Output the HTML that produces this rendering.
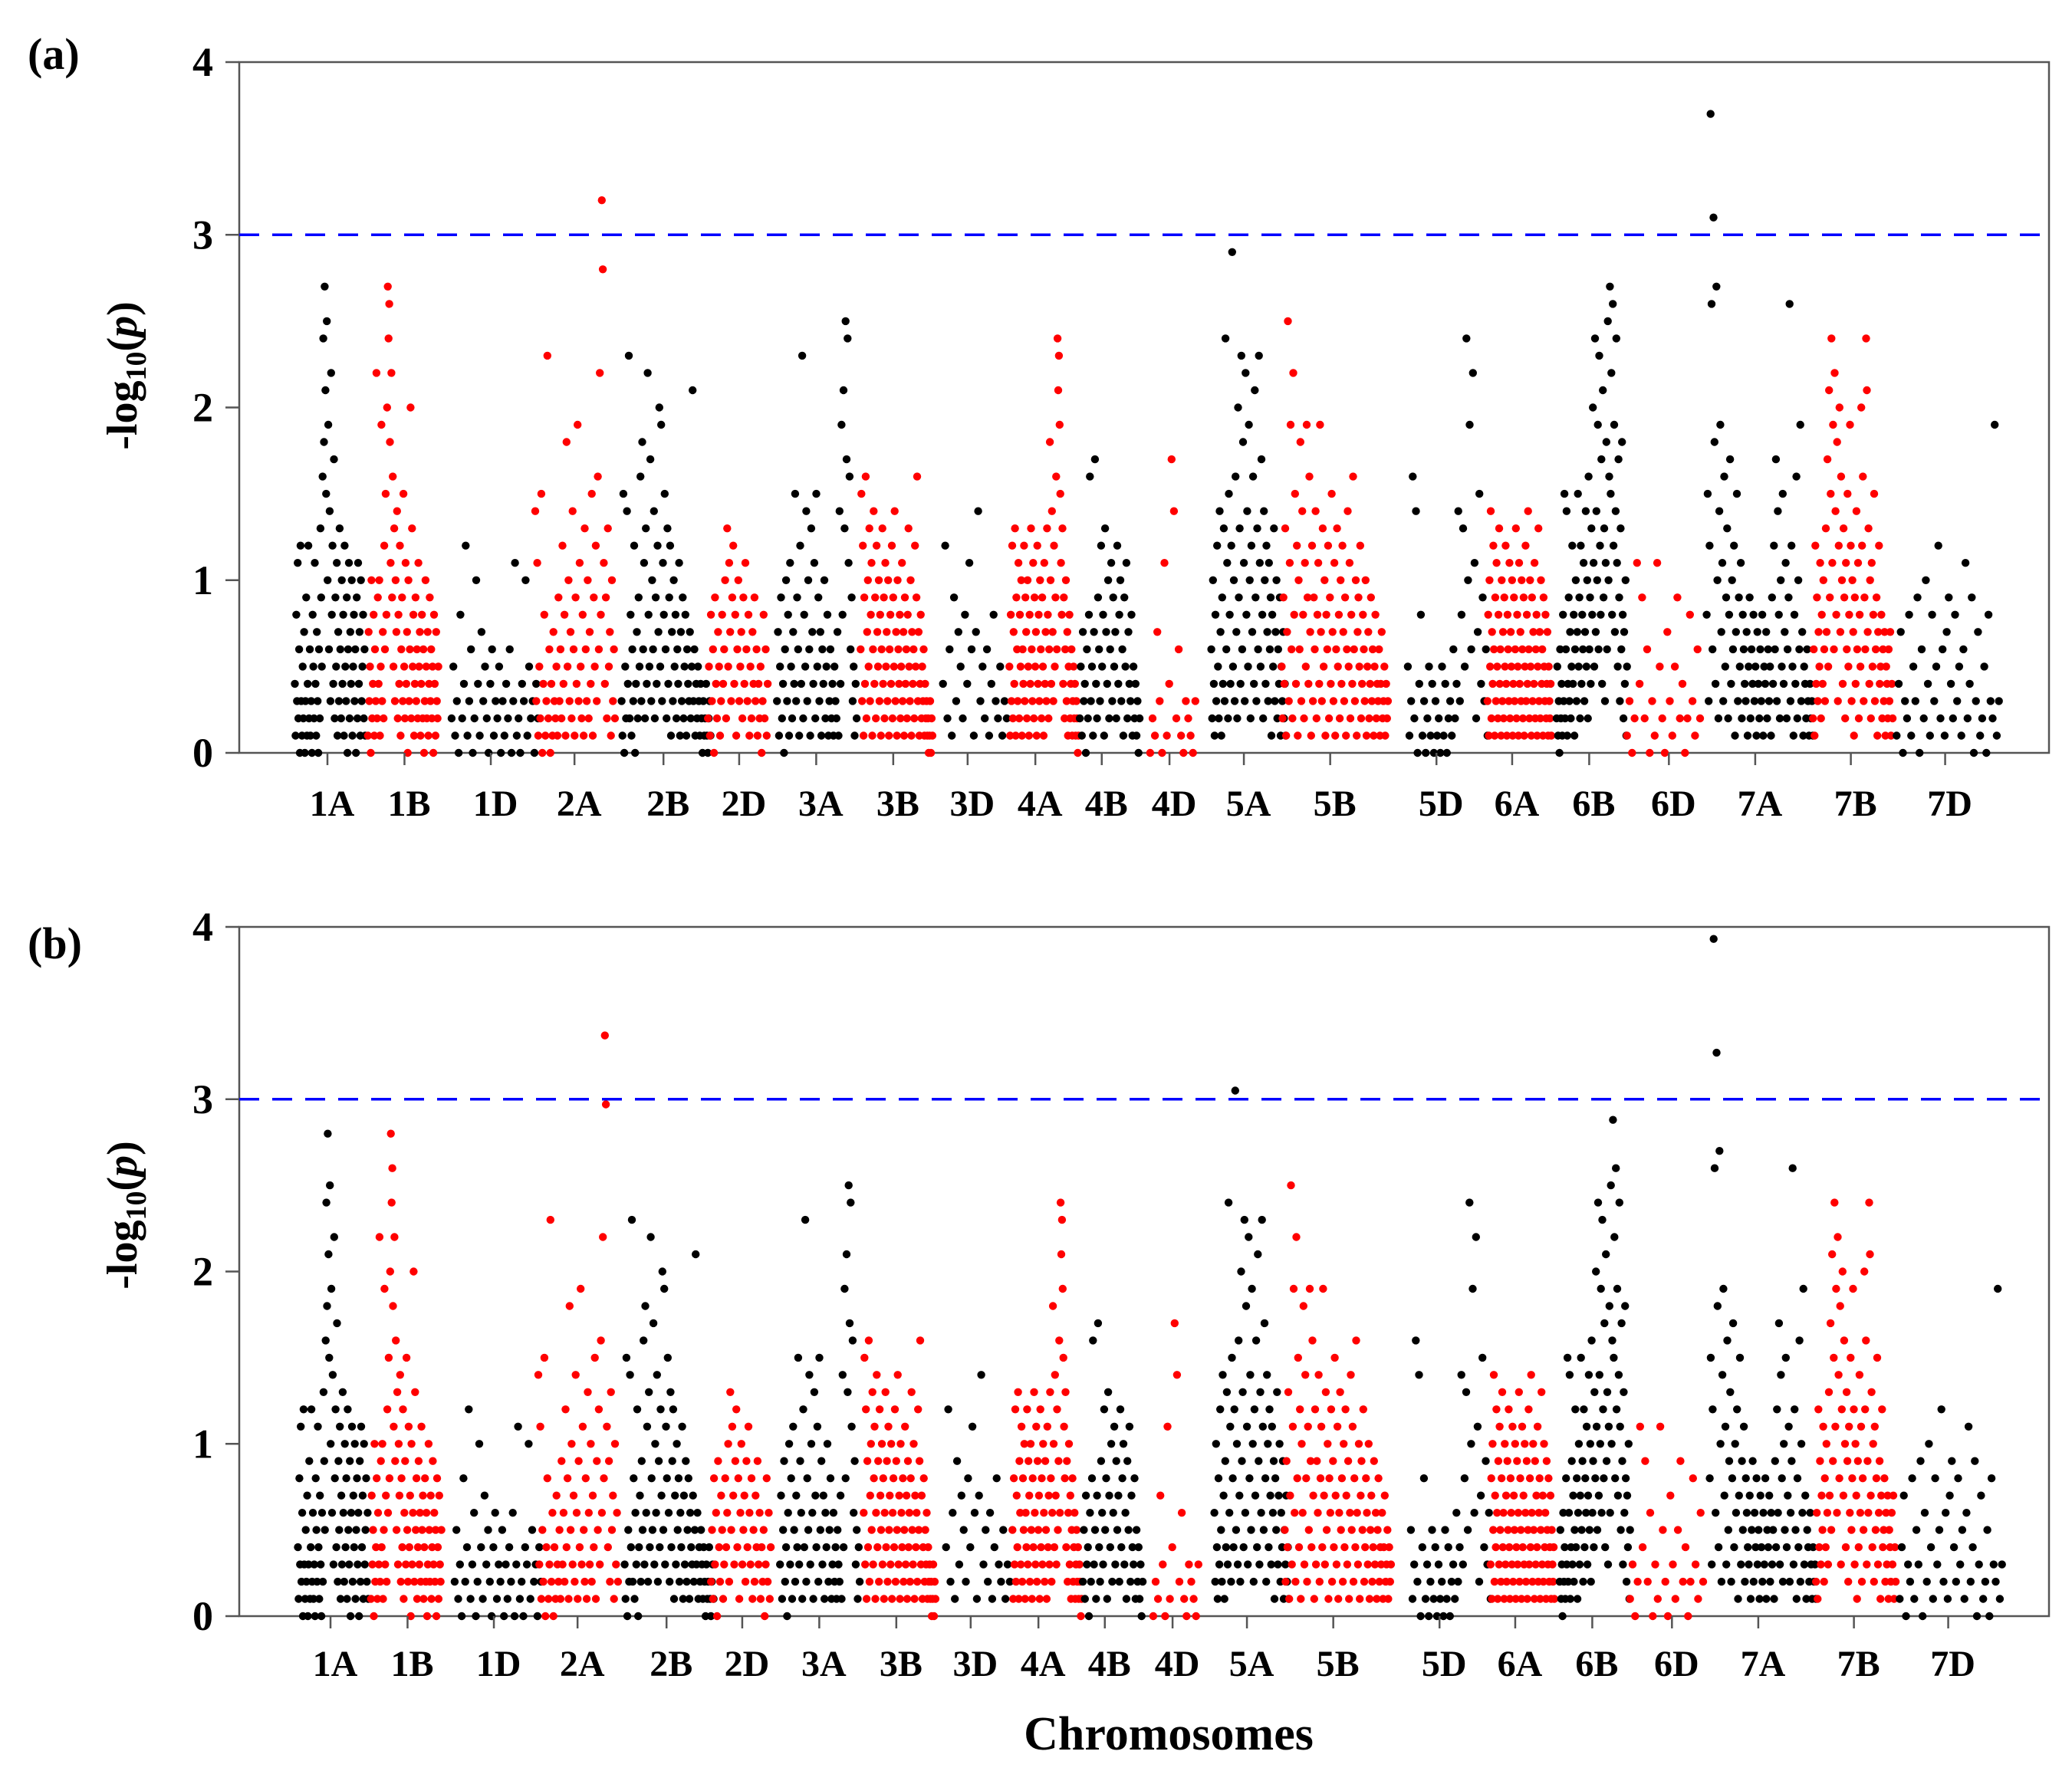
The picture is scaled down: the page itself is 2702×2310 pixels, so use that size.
<!DOCTYPE html>
<html><head><meta charset="utf-8"><style>
html,body{margin:0;padding:0;background:#fff}
svg{display:block}
text{font-family:"Liberation Serif",serif;font-weight:bold;fill:#000}
</style></head><body>
<svg id="chart" width="2702" height="2310" viewBox="0 0 2702 2310" xmlns="http://www.w3.org/2000/svg"></svg>
<script>
// chromosome names
const chromosomes=["1A","1B","1D","2A","2B","2D","3A","3B","3D","4A","4B","4D","5A","5B","5D","6A","6B","6D","7A","7B","7D"];
// -log10(p) values x10, ordered along each chromosome
const v1A=[4,1,8,3,11,2,6,0,12,3,1,5,2,7,0,3,9,1,4,12,2,6,1,3,0,8,5,2,11,4,1,7,3,0,6,2,13,9,5,16,24,18,27,21,15,25,10,19,6,14,3,22,8,12,4,17,2,9,5,11,1,7,3,13,6,2,10,4,8,1,12,5,3,9,0,6,11,2,7,4,10,1,5,8,3,6,0,9,2,11,4,7,1,10,3,5,8,2,6,1];
const v1B=[1,7,3,5,0,10,2,4,8,1,6,3,22,2,9,4,10,1,5,19,3,7,2,12,6,15,8,20,27,24,26,18,11,22,9,16,5,13,3,10,7,14,2,8,4,12,1,6,9,3,15,5,2,11,4,7,0,10,3,6,20,2,13,5,8,1,4,9,3,6,2,11,5,7,1,4,8,2,6,0,3,10,5,2,7,1,4,9,3,6,2,5,0,8,4,1,7,3,2,5];
const v1D=[2,5,1,3,0,8,2,4,12,1,3,6,0,2,10,4,1,7,3,5,2,0,4,6,1,3,2,5,0,3,1,4,2,6,0,3,11,1,2,0,4,3,10,1,5,2,3,0,4,2];
const v2A=[14,3,11,1,5,2,15,0,4,8,1,3,23,2,6,0,4,1,7,3,2,5,1,9,3,6,2,12,4,8,1,18,5,10,3,7,2,14,6,1,9,4,19,3,11,5,2,8,1,13,6,3,10,2,7,4,15,1,9,5,12,3,16,6,22,8,32,28,11,4,9,2,13,5,7,1,10,3,6,2];
const v2B=[3,1,15,0,5,2,14,4,23,2,8,1,6,3,12,0,4,7,2,9,5,16,3,18,6,11,2,13,4,22,8,5,17,3,10,6,14,2,9,4,12,7,20,5,19,3,11,8,15,6,2,13,4,9,12,1,7,3,10,5,8,2,6,4,11,1,7,3,9,2,5,8,1,6,4,3,7,2,5,21,3,6,1,4,2,5,3,1,4,2,0,3,1,2,4,1,0,2,3,1];
const v2D=[2,5,1,8,3,6,0,9,4,2,7,5,1,3,8,4,6,10,2,13,5,11,7,3,9,12,4,8,1,6,10,3,5,7,2,9,4,11,6,3,8,1,5,2,7,4,9,3,6,1,4,2,5,0,3,8,2,6,1,4];
const v3A=[3,7,1,5,9,2,4,0,6,10,3,8,1,11,5,2,7,4,15,3,9,6,1,12,4,23,2,8,5,14,3,10,6,1,13,7,4,11,2,15,5,9,3,7,1,6,4,10,2,5,8,1,3,6,2,4,1,5,3,2,7,1,14,4,19,8,21,13,25,17,24,11,16,6,9,3,5,1,4,2];
const v3B=[6,15,3,12,1,9,4,16,2,7,10,5,13,3,8,11,1,6,14,4,9,2,12,7,5,10,3,8,1,6,13,4,9,2,11,5,7,3,10,1,6,8,4,12,2,9,5,14,3,7,1,10,6,4,8,2,5,11,3,7,1,9,4,6,2,8,13,5,3,10,1,7,4,6,2,12,5,9,16,3,7,1,4,8,2,5,3,6,1,4,2,3,1,2,0,1,3,0,2,1];
const v3D=[4,12,2,6,1,9,3,7,5,2,8,4,11,6,1,7,14,3,5,2,6,1,4,8,3,2,5,1,3,2];
const v4A=[5,1,8,3,12,2,7,4,13,1,9,6,3,11,2,8,5,10,1,6,4,12,3,9,7,2,10,5,1,8,4,13,6,3,11,2,9,5,7,1,12,4,8,3,10,6,2,9,5,1,11,4,7,3,13,8,2,6,18,10,4,14,7,3,12,5,9,16,6,24,21,23,19,15,11,8,13,4,9,2,6,10,3,7,1,5,8,2,4,6,1,3,5,2,4,1,3,2,0,1];
const v4B=[2,5,1,7,3,4,0,6,2,8,16,3,5,1,7,17,4,2,9,6,3,12,5,8,1,13,7,4,10,2,6,11,3,9,5,7,2,12,4,8,10,3,6,1,9,5,11,2,7,4,3,8,1,5,2,4,1,3,0,2];
const v4D=[0,2,1,7,3,0,11,1,4,17,14,2,6,1,0,3,2,1,0,3];
const v5A=[6,2,10,4,1,8,3,12,5,2,14,7,1,9,4,13,3,24,6,11,2,15,8,4,12,29,5,10,3,16,7,2,20,9,13,4,23,6,18,11,3,22,8,14,5,19,10,2,12,7,16,4,21,9,3,13,6,23,11,5,17,8,2,14,10,4,12,7,3,11,6,9,1,8,5,13,3,7,10,2,6,4,9,1,5,3,7,2,4,1];
const v5B=[5,2,9,4,13,1,7,25,3,11,19,6,2,22,8,15,4,12,1,10,6,18,3,14,8,2,11,5,19,9,4,16,7,1,12,3,9,6,14,2,8,11,4,19,7,3,13,5,10,1,8,6,12,2,9,4,15,7,3,11,1,6,13,5,8,2,10,4,12,7,3,9,1,6,14,5,11,2,8,4,16,6,3,10,1,7,9,5,12,2,4,8,6,3,10,1,5,7,2,4,9,3,6,1,5,8,2,4,3,6,1,4,7,2,3,5,1,4,2,3];
const v5D=[5,1,3,16,2,14,0,4,8,1,3,0,2,5,1,4,0,3,1,2,0,5,1,4,0,2,3,1,6,2,4,14,3,8,13,5,24,10,19,6,22,11,2,7,15,4,9,3,6,1];
const v6A=[3,8,1,10,5,14,2,7,4,12,6,1,9,3,11,5,2,8,13,4,6,1,10,3,7,2,9,5,12,4,1,8,6,3,11,2,7,5,10,1,4,9,3,6,13,2,8,5,1,11,4,7,3,10,6,2,9,1,5,12,3,8,4,14,6,2,10,5,1,9,3,7,4,11,2,6,8,1,5,13,3,7,2,10,4,6,1,9,5,3,8,2,4,7,1,5,3,2,4,1];
const v6B=[2,5,1,3,0,6,2,4,1,8,3,15,2,6,14,1,4,9,3,7,2,5,12,4,8,1,6,10,3,7,15,5,9,2,12,4,8,6,11,3,7,14,5,10,2,16,6,9,4,13,8,20,11,5,24,7,14,10,19,6,23,12,8,17,4,21,9,13,3,11,18,6,25,10,16,27,15,22,8,26,12,19,7,14,24,11,5,17,9,3,13,6,18,8,2,7,4,10,1,5];
const v6D=[1,3,0,2,11,4,9,2,6,0,3,1,11,5,2,0,7,3,1,5,9,2,4,0,2,8,3,1,6,2];
const v7A=[8,15,3,12,37,26,6,31,18,4,27,10,2,14,19,7,11,3,16,5,9,13,2,8,17,4,10,6,12,1,7,15,3,9,5,11,2,8,6,4,3,7,1,5,9,2,6,4,8,3,5,1,7,4,2,6,3,8,1,5,4,7,2,6,3,5,1,9,4,12,6,17,3,14,8,2,10,5,15,4,7,11,2,6,9,26,3,12,5,1,8,4,16,2,10,6,19,3,7,1,5,4,2,6,3,1,4,2,3,1];
const v7B=[2,6,1,12,4,9,3,7,5,11,2,8,4,10,6,3,13,7,17,5,21,9,15,24,11,19,6,22,14,8,18,3,12,20,7,16,10,4,13,9,2,11,6,15,5,8,19,12,3,10,7,1,9,4,14,6,11,2,8,5,20,12,16,3,9,6,24,21,7,13,4,10,2,11,5,8,15,3,6,9,1,7,12,4,5,8,2,6,3,7,1,5,4,2,6,3,7,1,4,2];
const v7D=[1,4,7,0,3,2,8,1,5,3,9,0,6,2,10,4,1,8,3,5,12,2,6,1,7,9,4,2,8,3,5,1,6,11,2,4,9,0,3,7,1,2,5,0,8,3,2,19,1,3];
// panel (b) differs at the top SNPs: chromosome, index, value (-log10 p)
const peakChromB=["2A","2A","5A","7A","7A","6B","1A","1B"];
const peakIndexB=[66,67,25,4,7,75,42,28];
const peakValueB=[3.37,2.97,3.05,3.93,3.27,2.88,2.8,2.8];
// y-axis tick labels
const yTicks=[0,1,2,3,4];
const threshold=3;

const series=[v1A,v1B,v1D,v2A,v2B,v2D,v3A,v3B,v3D,v4A,v4B,v4D,v5A,v5B,v5D,v6A,v6B,v6D,v7A,v7B,v7D];
// layout (pixels)
const S=1.732;
const spans=[[222,275],[277,330],[340,405],[403,463],[468,535],[533,578],[585,645],[648,702],[710,758],[760,812],[813,858],[866,900],[912,968],[965,1045],[1060,1120],[1120,1168],[1172,1225],[1225,1280],[1285,1365],[1365,1425],[1428,1505]];
const labelX=[250,308,373,436,503,560,618,676,732,783,833,884,940,1005,1085,1142,1200,1260,1325,1397,1468];

const svg=document.getElementById('chart');
const NS='http://www.w3.org/2000/svg';
function mk(tag,attrs,parent){const e=document.createElementNS(NS,tag);for(const k in attrs)e.setAttribute(k,attrs[k]);(parent||svg).appendChild(e);return e;}

const panels=[{id:'a',top:81,bottom:982,labelY:1064,tag:'(a)',tagY:90,titleY:490,dx:0},{id:'b',top:1209,bottom:2108,labelY:2186,tag:'(b)',tagY:1250,titleY:1585,dx:4}];
const left=312,right=2672;
panels.forEach(p=>{
  const g=mk('g',{});
  
  
  const y=v=>p.bottom-(v/4)*(p.bottom-p.top);
  const xs=(ci,i,n)=>(spans[ci][0]+(spans[ci][1]-spans[ci][0])*(n>1?i/(n-1):0.5))*S+p.dx;
  const fr=mk('rect',{x:left,y:p.top,width:right-left,height:p.bottom-p.top,fill:'none',stroke:'#555',"stroke-width":2.5},g);
  
  
  yTicks.forEach(t=>{
    const l=mk('line',{x1:left-18,x2:left,y1:y(t),y2:y(t),stroke:'#555',"stroke-width":2.5},g);
    
    
    const tx=mk('text',{x:left-34,y:y(t)+18,"text-anchor":'end',"font-size":54},g);
    
    
    tx.textContent=t;
  });
  series.forEach((arr,ci)=>{
    const col=ci%2===0?'#000':'#ff0000';
    const cg=mk('g',{fill:col},g);
    
    
    arr.forEach((v,i)=>{
      let val=v/10;
      if(p.id==='b'){
        for(let k=0;k<peakChromB.length;k++){
          if(peakChromB[k]===chromosomes[ci]&&peakIndexB[k]===i) val=peakValueB[k];
        }
      }
      const c=mk('circle',{cx:xs(ci,i,arr.length).toFixed(1),cy:y(val).toFixed(1),r:5.2},cg);
      
      
    });
    const mid=labelX[ci]*S+p.dx;
    const tk=mk('line',{x1:mid-6,x2:mid-6,y1:p.bottom,y2:p.bottom+16,stroke:'#555',"stroke-width":2.5},g);
    
    
    const lb=mk('text',{x:mid,y:p.labelY,"text-anchor":'middle',"font-size":48},g);
    
    
    lb.textContent=chromosomes[ci];
  });
  const th=mk('line',{x1:left,x2:right,y1:y(threshold),y2:y(threshold),stroke:'#0000ff',"stroke-width":3.5,"stroke-dasharray":'26 17'},g);
  
  
  const tg=mk('text',{x:36,y:p.tagY,"font-size":58},g);
  
  
  tg.textContent=p.tag;
  const yt=mk('text',{x:0,y:0,"text-anchor":'middle',"font-size":56,transform:`translate(178,${p.titleY}) rotate(-90)`},g);
  
  
  yt.innerHTML='-log<tspan font-size="38" dy="12">10</tspan><tspan dy="-12">(</tspan><tspan font-style="italic">p</tspan>)';
});
const xt=mk('text',{x:1524,y:2282,"text-anchor":'middle',"font-size":62});


xt.textContent='Chromosomes';
</script>
</body></html>
